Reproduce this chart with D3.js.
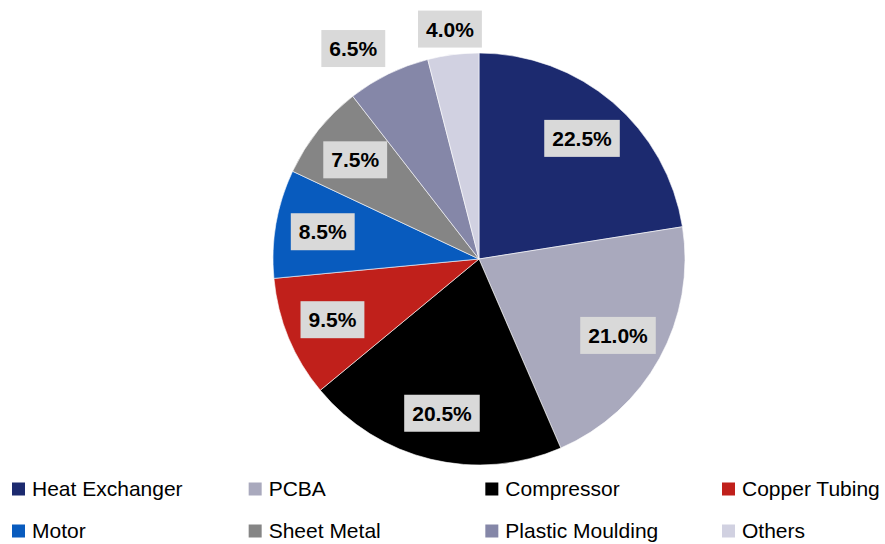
<!DOCTYPE html>
<html><head><meta charset="utf-8">
<script src="https://cdn.jsdelivr.net/npm/d3@7"></script>
<style>
html,body{margin:0;padding:0;background:#fff;}
svg{display:block;}
</style></head>
<body>
<svg id="chart" width="885" height="544"></svg>
<script>
const categories = ["Heat Exchanger","PCBA","Compressor","Copper Tubing","Motor","Sheet Metal","Plastic Moulding","Others"];
const shares = [22.5, 21.0, 20.5, 9.5, 8.5, 7.5, 6.5, 4.0];
const colors = ["#1c2a6f","#a9a9bd","#000000","#c0201b","#085bbe","#858585","#8587a8","#d1d1e1"];

const W = 885, H = 544;
const cx = 479, cy = 259, R = 206;
const svg = d3.select("#chart");

const pie = d3.pie().sort(null).value(d => d.v).startAngle(0).endAngle(2*Math.PI);
const data = categories.map((c,i)=>({c, v: shares[i], col: colors[i]}));
const arcs = pie(data);
const arc = d3.arc().innerRadius(0).outerRadius(R);

const g = svg.append("g").attr("transform", `translate(${cx},${cy})`);
g.selectAll("path").data(arcs).enter().append("path")
  .attr("d", arc).attr("fill", d => d.data.col)
  .attr("stroke", "#ffffff").attr("stroke-width", 0.6);

// labels
const fontFam = "'Liberation Sans', Arial, sans-serif";
const polar = (a, r) => [r*Math.sin(a), -r*Math.cos(a)];
const labels = arcs.map(d => {
  const mid = (d.startAngle + d.endAngle)/2;
  const outside = d.data.v < 7;
  const r = outside ? R*1.125 : R*0.77;
  const [x,y] = polar(mid, r);
  return {d, mid, outside, x, y, text: d.data.v.toFixed(1) + "%"};
});
const tmp = svg.append("text").attr("font-family", fontFam).attr("font-weight","bold").attr("font-size", 21);
labels.forEach(l => { tmp.text(l.text); l.w = tmp.node().getComputedTextLength() + 16; l.h = 37; });
tmp.remove();
for (let i = labels.length - 2; i >= 0; i--) {
  const a = labels[i], b = labels[i+1];
  if (!a.outside || !b.outside) continue;
  const overlaps = () => Math.abs(a.y - b.y) < (a.h+b.h)/2 && (a.x + a.w/2) > (b.x - b.w/2) - 32;
  if (overlaps()) {
    let ang = a.mid;
    const rr = R*1.19;
    while (true) {
      [a.x, a.y] = polar(ang, rr);
      if (!overlaps()) break;
      ang -= Math.PI/720;
    }
  }
}
const lg = g.selectAll("g.lbl").data(labels).enter().append("g").attr("class","lbl")
  .attr("transform", l => `translate(${l.x},${l.y})`);
lg.append("rect").attr("x", l => -l.w/2).attr("y", l => -l.h/2)
  .attr("width", l => l.w).attr("height", l => l.h).attr("fill", "#d9d9d9");
lg.append("text").attr("text-anchor","middle").attr("dy","0.36em")
  .attr("font-family", fontFam).attr("font-weight","bold").attr("font-size", 21)
  .attr("fill","#000").text(l => l.text);

// legend
const colX = d3.scalePoint().domain([0,1,2,3]).range([12, 722]);
const rowY = d3.scalePoint().domain([0,1]).range([489, 531]);
const leg = svg.selectAll("g.leg").data(data).enter().append("g").attr("class","leg")
  .attr("transform", (d,i) => `translate(${colX(i%4)},${rowY(Math.floor(i/4))})`);
leg.append("rect").attr("x",0).attr("y",-6.5).attr("width",13).attr("height",13).attr("fill", d => d.col);
leg.append("text").attr("x", 20).attr("dy","0.35em")
  .attr("font-family", fontFam).attr("font-size", 21).attr("fill","#000").text(d => d.c);
</script>
</body></html>
